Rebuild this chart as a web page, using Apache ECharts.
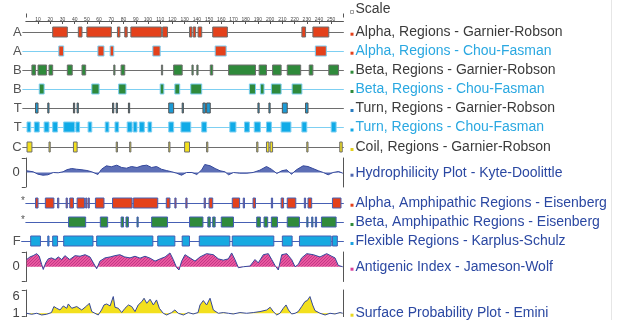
<!DOCTYPE html>
<html>
<head>
<meta charset="utf-8">
<script src="https://cdn.jsdelivr.net/npm/echarts@6/dist/echarts.min.js"></script>
<style>
html, body { margin: 0; padding: 0; background: #fff; }
#chart { width: 621px; height: 320px; }
</style>
</head>
<body>
<div id="chart"></div>
<script>
// residue ruler
var scaleTicks = [10, 20, 30, 40, 50, 60, 70, 80, 90, 100, 110, 120, 130, 140, 150, 160, 170, 180, 190, 200, 210, 220, 230, 240, 250];

// region tracks: [start, end] in residues
var alphaGR = [[22,34],[43,46],[50,70],[75,77],[81,83],[86,111],[112,116],[134,136],[137,139],[141,144],[153,165],[226,229],[235,248]];
var alphaCF = [[27,31],[59,64],[69,72],[104,110],[155,164],[237,246]];
var betaGR = [[5,8],[10,17],[19,22],[34,38],[46,49],[72,73],[78,81],[111,112],[121,128],[136,137],[140,141],[151,153],[166,188],[191,197],[202,209],[214,225],[232,235],[248,256]];
var betaCF = [[11,15],[54,60],[76,82],[110,113],[122,126],[135,144],[183,188],[192,195],[201,209],[218,226]];
var turnGR = [[8,10],[18,19],[39,40],[42,43],[71,72],[74,75],[84,85],[117,121],[128,129],[145,147],[148,151],[190,191],[199,200],[210,214],[229,231]];
var turnCF = [[1,4],[7,11],[15,19],[22,26],[31,40],[41,44],[51,54],[65,68],[73,76],[83,87],[88,91],[93,97],[100,103],[117,121],[127,135],[144,148],[167,172],[179,183],[187,192],[197,201],[209,217],[226,230],[250,254]];
var coilGR = [[1,5],[19,20],[39,42],[74,75],[85,86],[117,118],[130,134],[148,149],[189,190],[197,199],[200,202],[230,231],[257,259]];
var alphaAmph = [[8,10],[16,23],[26,27],[33,34],[36,39],[42,48],[49,50],[51,52],[57,64],[71,87],[88,108],[115,118],[122,123],[131,132],[146,147],[150,153],[169,175],[178,179],[186,188],[201,202],[209,211],[214,221],[228,229],[231,234],[251,258]];
var betaAmph = [[35,49],[61,67],[78,80],[82,84],[91,92],[103,116],[134,145],[149,151],[153,155],[160,170],[189,192],[195,198],[201,206],[214,224],[230,231],[234,235],[237,238],[242,254]];
var flexible = [[4,12],[18,19],[22,26],[31,55],[58,104],[108,122],[128,134],[142,167],[169,203],[210,218],[224,250],[251,255]];

// plots: [residue, value]
var hydro = [[0.7,0.53],[6,0.22],[10,-0.53],[14,-0.84],[18,-0.71],[22.5,0],[26.5,-0.09],[30.5,0.22],[33.5,0.84],[37.5,1.24],[41.5,1.02],[46,0.84],[50,0.62],[54,0.22],[59,-0.62],[62,1.02],[66,2.08],[70,1.77],[74.5,2.27],[78.5,1.55],[82.5,1.34],[86.5,1.86],[91,1.55],[95,2.08],[99,2.27],[103,1.55],[107,1.86],[111,1.02],[115,0.62],[119.5,0.22],[123.5,-0.22],[127.5,-0.84],[131.5,0],[136,0],[140,-0.62],[144,0.84],[146.5,2.48],[151,2.08],[155,1.24],[159,0.53],[163,0.22],[166,-0.71],[170,0],[175,-0.22],[181,-0.22],[186,0],[191.5,0.71],[197,1.86],[201,1.02],[205.5,-0.31],[209.5,0.53],[213.5,0.84],[217.5,-0.53],[221.5,0.84],[227,2.08],[231,1.86],[235,1.24],[239.5,0.53],[243.5,0],[247.5,-0.71],[251.5,0],[256,0.31],[259.5,-0.22]];
var antigenic = [[0.7,0.83],[3.4,1.13],[6,1.28],[9,1.51],[11,1.21],[13,0.26],[14.3,-0.31],[16.3,0.45],[18.4,0.91],[21,1.02],[24,0.83],[26.6,1.13],[29.4,0.83],[32,1.28],[36,0.83],[40.3,1.28],[44.4,1.21],[48.5,1.39],[52.5,1.13],[55.3,0.45],[58,-0.23],[60.7,0.65],[64.8,1.02],[69,1.13],[73,1.28],[77,1.39],[81,1.13],[85.3,1.02],[89.4,1.21],[93.5,0.99],[97.6,1.21],[101.7,0.99],[105.8,0.65],[110,0.91],[114,1.13],[118,1.59],[120.7,0.83],[123.5,-0.11],[125.4,-0.37],[127.6,0.65],[130.3,1.39],[134.4,1.02],[138.5,0.65],[142.6,1.13],[148,1.51],[153.5,1.39],[157.6,0.91],[161.7,0.76],[165.8,0.91],[168.5,1.59],[171.2,0.83],[174,-0.11],[178,0],[183.5,0.08],[187.6,0.83],[190.3,0.45],[194.4,1.39],[198.5,1.51],[201.3,0.83],[204,0.15],[206.7,-0.37],[209.5,1.39],[213.6,1.51],[217.6,0.83],[220.4,0],[223,0.26],[225.8,1.02],[230,1.51],[235.3,1.39],[240.8,1.13],[246.3,1.51],[250.4,1.21],[253.1,1.02],[255.8,0.15],[259.4,0]];
var surface = [[0.7,1],[4.8,0.7],[9,1],[13,0.49],[17,0.7],[21,1.21],[23,3.02],[25.3,2.51],[28,1.99],[30.7,3.2],[33.5,2.51],[34.8,3.8],[37.6,2.51],[41.7,3.02],[45.8,1.99],[49.8,3.2],[52,4.01],[54,1.51],[56.6,1],[59.3,0.49],[62,1.99],[64,3.5],[66.2,3.8],[69,3.2],[71.6,6.03],[73,2.81],[75.7,2.51],[78.5,1.21],[81.2,2.51],[84,3.5],[86.7,3.02],[89.4,1.51],[92,3.5],[95,4.52],[96.8,5.52],[99,4.01],[101.7,5.22],[104.4,3.5],[107,5.01],[109.3,2.51],[112.5,1],[115.3,0.49],[119.4,1.21],[122,1.99],[124.8,1],[129,0.49],[133,1.21],[137,0.79],[141,1.21],[142.6,3.5],[145.3,4.83],[148,3.5],[150.8,5.52],[152.2,6.03],[153.5,1.99],[157.6,1],[161.7,1.21],[165.8,1],[169.8,0.79],[175.3,1.21],[180.8,1],[186.2,1.21],[191.7,1.51],[197.2,1.99],[200,2.81],[202.6,1.51],[205.4,0.49],[208,1],[210.8,2.51],[213,3.5],[215,1.99],[217.6,0.79],[220.4,1],[223,1.51],[225.8,3.02],[228.5,4.52],[230.4,4.83],[232.6,6.03],[234.8,3.5],[236.7,1.81],[240.8,1],[245,0.49],[249,1],[253,0.79],[257.2,1.21],[259.4,1]];

var RED = "#e4411b", GREEN = "#2f8a3b", YELLOW = "#f3e01d";
var GREY = "#6e6e6e", SKY = "#7dcff2", NAVY = "#4660b4";
var FONT = 'Arial, "Liberation Sans", sans-serif';

// pixel position of residue 0 and px per residue
var X0 = 25.8, PX = 1.2217, XMAX = 260;
var RIGHT = 621 - (X0 + XMAX * PX);

var grids = [], xAxes = [], yAxes = [], series = [], graphics = [];

function addGrid(top, height, xmin) {
  grids.push({ left: X0 + xmin * PX, right: RIGHT, top: top, height: height });
  return grids.length - 1;
}

function regionRenderer(fill, stroke) {
  return function (params, api) {
    var a = api.coord([api.value(0), 0]);
    var b = api.coord([api.value(1), 0]);
    return {
      type: "rect",
      shape: { x: a[0], y: a[1] - 5, width: Math.max(b[0] - a[0], 1), height: 10 },
      style: { fill: fill, stroke: stroke, lineWidth: 1 }
    };
  };
}

// ---- scale ----
var gs = addGrid(13.5, 8, 0);
xAxes.push({
  gridIndex: gs, type: "value", position: "top", min: 0, max: XMAX,
  axisLine: { lineStyle: { color: "#555" } },
  axisTick: { inside: true, length: 2.5, customValues: scaleTicks, lineStyle: { color: "#555" } },
  axisLabel: { inside: true, customValues: scaleTicks, fontSize: 5, color: "#444", margin: 3.5, fontFamily: FONT },
  splitLine: { show: false }
});
xAxes.push({
  gridIndex: gs, type: "value", position: "top", min: 0, max: XMAX,
  axisLine: { show: false },
  axisTick: { inside: true, length: 4, customValues: [0, XMAX], lineStyle: { color: "#555" } },
  axisLabel: { show: false }, splitLine: { show: false }
});
yAxes.push({ gridIndex: gs, type: "value", min: 0, max: 1, show: false });

// ---- region tracks ----
var tracks = [
  { y: 32, min: -2.5, tag: "A", data: alphaGR, fill: RED, stroke: GREY, line: GREY },
  { y: 51, min: -2.5, tag: "A", data: alphaCF, fill: RED, stroke: SKY, line: SKY },
  { y: 70, min: -2.5, tag: "B", data: betaGR, fill: GREEN, stroke: GREY, line: GREY },
  { y: 89, min: -2.5, tag: "B", data: betaCF, fill: GREEN, stroke: SKY, line: SKY },
  { y: 108, min: -2.5, tag: "T", data: turnGR, fill: "#1c9bd6", stroke: "#555", line: GREY },
  { y: 127, min: -2.5, tag: "T", data: turnCF, fill: "#10abe7", stroke: SKY, line: SKY },
  { y: 147, min: -2.5, tag: "C", data: coilGR, fill: YELLOW, stroke: GREY, line: GREY },
  { y: 203, min: 0, tag: "*", data: alphaAmph, fill: RED, stroke: NAVY, line: NAVY },
  { y: 222, min: 0, tag: "*", data: betaAmph, fill: GREEN, stroke: NAVY, line: NAVY },
  { y: 241, min: -3.4, tag: "F", data: flexible, fill: "#17a9e1", stroke: NAVY, line: NAVY }
];

tracks.forEach(function (t) {
  var gi = addGrid(t.y - 6, 12, t.min);
  xAxes.push({
    gridIndex: gi, type: "value", min: t.min, max: XMAX,
    axisLine: { show: true, onZero: true, lineStyle: { color: t.line, width: 1 } },
    axisTick: { show: false }, axisLabel: { show: false }, splitLine: { show: false }
  });
  yAxes.push({
    gridIndex: gi, type: "value", min: -1, max: 1,
    axisLine: { show: false }, axisTick: { show: false }, axisLabel: { show: false }, splitLine: { show: false }
  });
  series.push({
    type: "custom", xAxisIndex: xAxes.length - 1, yAxisIndex: yAxes.length - 1,
    data: t.data, encode: { x: [0, 1] },
    renderItem: regionRenderer(t.fill, t.stroke)
  });
  var star = t.tag === "*";
  graphics.push({
    type: "text", x: X0 + t.min * PX - 1, y: star ? t.y - 2 : t.y,
    style: { text: t.tag, fill: "#555", font: (star ? "10px " : "13px ") + FONT, align: "right", verticalAlign: "middle" }
  });
});

// ---- profile plots ----
var pat = document.createElement("canvas");
pat.width = 3; pat.height = 3;
var pc = pat.getContext("2d");
pc.fillStyle = "#e8579f"; pc.fillRect(0, 0, 3, 3);
pc.fillStyle = "#c43886"; pc.fillRect(0, 0, 1, 1); pc.fillRect(1, 2, 1, 1); pc.fillRect(2, 1, 1, 1);

function addPlot(top, height, ymin, ymax, labels, data, fill, origin) {
  var gi = addGrid(top, height, 0);
  xAxes.push({ gridIndex: gi, type: "value", min: 0, max: XMAX, show: false });
  yAxes.push({
    gridIndex: gi, type: "value", min: ymin, max: ymax,
    axisLine: { show: true, onZero: false, lineStyle: { color: "#555" } },
    axisTick: { show: true, customValues: [ymin, ymax], length: 4, lineStyle: { color: "#555" } },
    axisLabel: { customValues: labels, color: "#444", fontSize: 13, margin: 6, fontFamily: FONT },
    splitLine: { show: false }
  });
  var yi = yAxes.length - 1;
  yAxes.push({
    gridIndex: gi, type: "value", position: "right", min: ymin, max: ymax,
    axisLine: { show: true, onZero: false, lineStyle: { color: "#555" } },
    axisTick: { show: false }, axisLabel: { show: false }, splitLine: { show: false }
  });
  series.push({
    type: "line", xAxisIndex: xAxes.length - 1, yAxisIndex: yi, data: data,
    symbol: "none", silent: true,
    lineStyle: { color: "#34489c", width: 1 },
    areaStyle: { color: fill, opacity: 1, origin: origin }
  });
}

addPlot(158, 29, -4.5, 4.5, [0], hydro, "#5d6fb6", "auto");
addPlot(252, 29.5, -1.7, 1.7, [0], antigenic, { image: pat, repeat: "repeat" }, "auto");
addPlot(290, 26.6, 0, 8, [1, 6], surface, YELLOW, 1);

// ---- legend text on the right ----
var BLUE_TXT = "#2b48a2", SKY_TXT = "#2aa8e1", DARK_TXT = "#3b3b3b";
var legend = [
  { y: 9.5, text: "Scale", color: DARK_TXT, mark: "#fff" },
  { y: 31.7, text: "Alpha, Regions - Garnier-Robson", color: DARK_TXT, mark: RED },
  { y: 50.7, text: "Alpha, Regions - Chou-Fasman", color: SKY_TXT, mark: RED },
  { y: 69.7, text: "Beta, Regions - Garnier-Robson", color: DARK_TXT, mark: GREEN },
  { y: 89, text: "Beta, Regions - Chou-Fasman", color: SKY_TXT, mark: GREEN },
  { y: 108, text: "Turn, Regions - Garnier-Robson", color: DARK_TXT, mark: "#2a7cc0" },
  { y: 127.5, text: "Turn, Regions - Chou-Fasman", color: SKY_TXT, mark: "#12a8e6" },
  { y: 147, text: "Coil, Regions - Garnier-Robson", color: DARK_TXT, mark: "#e2cf1c" },
  { y: 172.7, text: "Hydrophilicity Plot - Kyte-Doolittle", color: BLUE_TXT, mark: "#5068b0" },
  { y: 202.7, text: "Alpha, Amphipathic Regions - Eisenberg", color: BLUE_TXT, mark: RED },
  { y: 222, text: "Beta, Amphipathic Regions - Eisenberg", color: BLUE_TXT, mark: GREEN },
  { y: 241, text: "Flexible Regions - Karplus-Schulz", color: BLUE_TXT, mark: "#1aa0e0" },
  { y: 266.7, text: "Antigenic Index - Jameson-Wolf", color: BLUE_TXT, mark: "#d8409a" },
  { y: 312.7, text: "Surface Probability Plot - Emini", color: BLUE_TXT, mark: "#e8d820" }
];
legend.forEach(function (l) {
  graphics.push({
    type: "rect", shape: { x: 350.5, y: l.y + 1, width: 3, height: 3 },
    style: { fill: l.mark, stroke: l.mark === "#fff" ? "#888" : null, lineWidth: 0.8 }
  });
  graphics.push({
    type: "text", x: 355.5, y: l.y,
    style: { text: l.text, fill: l.color, font: "14px " + FONT, verticalAlign: "middle" }
  });
});
graphics.push({ type: "line", shape: { x1: 611.5, y1: 0, x2: 611.5, y2: 320 }, style: { stroke: "#e6e6e6", lineWidth: 1 } });

var myChart = echarts.init(document.getElementById("chart"), null, { renderer: "canvas" });
myChart.setOption({
  animation: false,
  backgroundColor: "#fff",
  grid: grids,
  xAxis: xAxes,
  yAxis: yAxes,
  series: series,
  graphic: { elements: graphics }
});
</script>
</body>
</html>
